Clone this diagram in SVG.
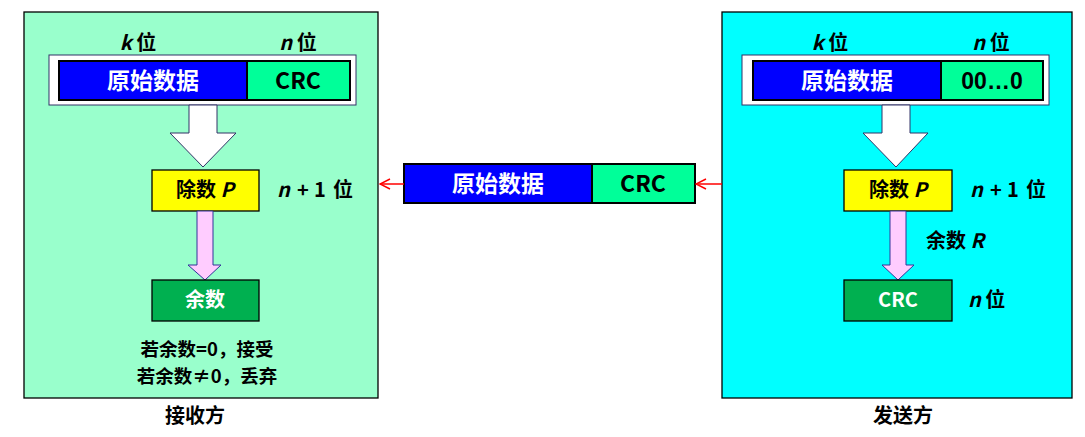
<svg xmlns="http://www.w3.org/2000/svg" width="1085" height="437" viewBox="0 0 1085 437">
<defs>
<style>
text{font-family:"Noto Sans CJK SC","Liberation Sans",sans-serif;font-weight:bold;}
.big{font-size:23px;text-anchor:middle;}
.lbl{font-size:20px;}
.note{font-size:18.5px;text-anchor:middle;}
.mid{text-anchor:middle;}
.w{fill:#fff;}
.k{fill:#000;}
.it{font-style:italic;}
.lat{font-family:"Liberation Sans","Noto Sans CJK SC",sans-serif;}
.frame{stroke:#000;stroke-width:1.3;}
.box{stroke:#000;stroke-width:2;}
.bigarrow{fill:#fff;stroke:#333366;stroke-width:1;}
.pinkarrow{fill:#FFCCFF;stroke:#333399;stroke-width:1;}
.red{stroke:#FF0000;stroke-width:1.5;fill:none;}
</style>
<marker id="oa" viewBox="0 0 12 12" refX="11" refY="6" markerWidth="12" markerHeight="12" markerUnits="userSpaceOnUse" orient="auto">
<path d="M1,1 L11,6 L1,11" fill="none" stroke="#FF0000" stroke-width="1.5"/>
</marker>
</defs>
<rect width="1085" height="437" fill="#fff"/>

<g id="receiver">
<rect class="frame" x="24" y="12" width="354" height="386" fill="#99FFCC"/>
<text class="lbl mid" x="138" y="50"><tspan class="it">k</tspan> 位</text>
<text class="lbl mid" x="298" y="50"><tspan class="it">n</tspan> 位</text>
<rect x="49" y="55" width="307" height="50" fill="#fff" stroke="#333366" stroke-width="1"/>
<rect class="box" x="59" y="61" width="188" height="39" fill="#0000FF"/>
<rect class="box" x="247" y="61" width="103" height="39" fill="#00FF99"/>
<text class="big w" x="153" y="89">原始数据</text>
<text class="big k" x="298" y="89">CRC</text>
<path class="bigarrow" d="M189,105 L217,105 L217,133 L236,133 L203,167 L170,133 L189,133 Z"/>
<rect class="frame" x="152" y="170" width="107" height="41" fill="#FFFF00"/>
<text class="lbl mid" x="205" y="197">除数 <tspan class="it">P</tspan></text>
<text class="lbl" y="197"><tspan class="it" x="277">n</tspan><tspan x="297">+</tspan><tspan x="314">1</tspan><tspan x="333">位</tspan></text>
<path class="pinkarrow" d="M197,211 L213,211 L213,265 L221,265 L205,280 L188,265 L197,265 Z"/>
<rect class="frame" x="152" y="280" width="107" height="41" fill="#00B050"/>
<text class="lbl mid w" x="205" y="307">余数</text>
<text class="note" x="207" y="356">若余数=0，接受</text>
<text class="note" x="207" y="383">若余数≠0，丢弃</text>
<text class="lbl mid" x="195" y="423">接收方</text>
</g>

<g id="frame-msg">
<rect class="box" x="404" y="164" width="188" height="39" fill="#0000FF"/>
<rect class="box" x="592" y="164" width="103" height="39" fill="#00FF99"/>
<text class="big w" x="498" y="192">原始数据</text>
<text class="big k" x="643" y="192">CRC</text>
</g>

<g id="sender">
<rect class="frame" x="722" y="12" width="350" height="386" fill="#00FFFF"/>
<text class="lbl mid" x="830" y="50"><tspan class="it">k</tspan> 位</text>
<text class="lbl mid" x="991" y="50"><tspan class="it">n</tspan> 位</text>
<rect x="742" y="55" width="307" height="50" fill="#fff" stroke="#333366" stroke-width="1"/>
<rect class="box" x="753" y="61" width="188" height="39" fill="#0000FF"/>
<rect class="box" x="941" y="61" width="102" height="39" fill="#00FF99"/>
<text class="big w" x="847" y="89">原始数据</text>
<text class="big k lat" x="992" y="89">00…0</text>
<path class="bigarrow" d="M882,105 L910,105 L910,133 L928,133 L896,167 L863,133 L882,133 Z"/>
<rect class="frame" x="844" y="170" width="108" height="41" fill="#FFFF00"/>
<text class="lbl mid" x="898" y="197">除数 <tspan class="it">P</tspan></text>
<text class="lbl" y="197"><tspan class="it" x="970">n</tspan><tspan x="990">+</tspan><tspan x="1007">1</tspan><tspan x="1026">位</tspan></text>
<path class="pinkarrow" d="M890,211 L906,211 L906,265 L914,265 L898,280 L882,265 L890,265 Z"/>
<text class="lbl" x="926" y="248">余数 <tspan class="it">R</tspan></text>
<rect class="frame" x="844" y="280" width="108" height="41" fill="#00B050"/>
<text class="lbl mid w" x="898" y="307">CRC</text>
<text class="lbl" x="968" y="307"><tspan class="it">n</tspan> 位</text>
<text class="lbl mid" x="903" y="423">发送方</text>
</g>

<g id="connectors">
<line class="red" x1="404" y1="184" x2="380" y2="184" marker-end="url(#oa)"/>
<line class="red" x1="722" y1="184" x2="696" y2="184" marker-end="url(#oa)"/>
</g>
</svg>
